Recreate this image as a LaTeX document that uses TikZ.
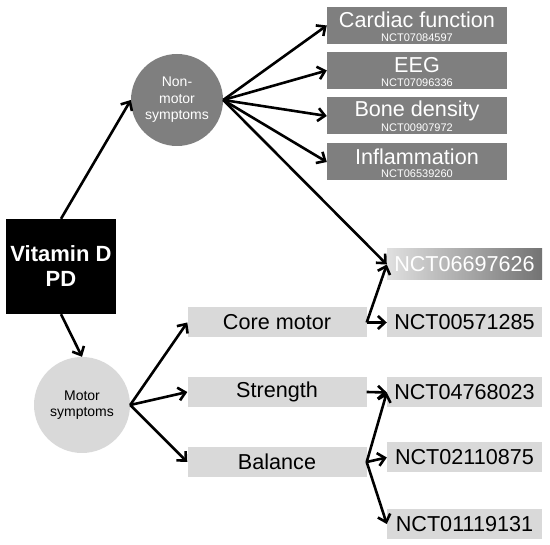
\documentclass[tikz,border=0pt]{standalone}
\usepackage{fontspec}
\setmainfont{Liberation Sans}
\usetikzlibrary{arrows.meta}
\definecolor{darkbox}{HTML}{7F7F7F}
\definecolor{lightbox}{HTML}{D9D9D9}
\begin{document}
\begin{tikzpicture}[x=1pt,y=-1pt,
  big/.style={font=\fontsize{21.6}{25}\selectfont},
  small/.style={font=\fontsize{14}{16.5}\selectfont},
  nctsmall/.style={text=white,font=\fontsize{11}{13}\selectfont},
  topbox/.style={fill=darkbox,draw=none,minimum width=180pt,minimum height=37pt,inner sep=0pt,text=white,align=center},
  motbox/.style={fill=lightbox,draw=none,minimum width=179pt,minimum height=30pt,inner sep=0pt,big},
  nctbox/.style={fill=lightbox,draw=none,minimum width=155pt,minimum height=30pt,inner sep=0pt,big},
  arr/.style={-{Straight Barb[length=7pt,width=13pt,line width=2.6pt]},line width=2.6pt,black}
]
\useasboundingbox (0,0) rectangle (550,545);
% main nodes
\node[fill=black,minimum width=110pt,minimum height=95pt,inner sep=0pt,text=white,align=center,
  font=\fontsize{22}{25}\selectfont\bfseries] (vit) at (61,266.5) {Vitamin D\\PD};
\node[circle,fill=darkbox,minimum size=92pt,inner sep=0pt,text=white,align=center,small] (nm) at (177,100) {Non-\\motor\\symptoms};
\node[circle,fill=lightbox,minimum size=96pt,inner sep=0pt,align=center,small] (mot) at (82,405) {Motor\\symptoms};
% top boxes
\node[topbox] (card) at (417,25.5) {};
\node[text=white,big] at ([yshift=5.5pt]card.center) {Cardiac function};
\node[nctsmall] at ([yshift=-12pt]card.center) {NCT07084597};
\node[topbox] (eeg) at (417,70.5) {};
\node[text=white,big] at ([yshift=5.5pt]eeg.center) {EEG};
\node[nctsmall] at ([yshift=-12pt]eeg.center) {NCT07096336};
\node[topbox] (bone) at (417,116) {};
\node[text=white,big] at ([yshift=5.5pt]bone.center) {Bone density};
\node[nctsmall] at ([yshift=-12pt]bone.center) {NCT00907972};
\node[topbox] (infl) at (417,162) {};
\node[text=white,big] at ([yshift=5.5pt]infl.center) {Inflammation};
\node[nctsmall] at ([yshift=-12pt]infl.center) {NCT06539260};
% motor boxes
\node[motbox] (core) at (277,322.5) {Core motor};
\node[motbox] (str) at (277,392) {Strength};
\node[motbox] (bal) at (277,462) {Balance};
% NCT boxes
\node[nctbox,fill=none,left color=black!12,right color=black!55,text=white,minimum height=31pt] (n1) at (464.5,264.5) {NCT06697626};
\node[nctbox] (n2) at (464.5,322.5) {NCT00571285};
\node[nctbox] (n3) at (464.5,392.5) {NCT04768023};
\node[nctbox] (n4) at (464.5,457.5) {NCT02110875};
\node[nctbox] (n5) at (464.5,524) {NCT01119131};
% connectors
\draw[arr] (vit.north) -- (nm.west);
\draw[arr] (vit.south) -- (mot.north);
\draw[arr] (nm.east) -- (card.west);
\draw[arr] (nm.east) -- (eeg.west);
\draw[arr] (nm.east) -- (bone.west);
\draw[arr] (nm.east) -- (infl.west);
\draw[arr] (nm.east) -- (n1.west);
\draw[arr] (mot.east) -- (core.west);
\draw[arr] (mot.east) -- (str.west);
\draw[arr] (mot.east) -- (bal.west);
\draw[arr] (core.east) -- (n1.west);
\draw[arr] (core.east) -- (n2.west);
\draw[arr] (str.east) -- (n3.west);
\draw[arr] (bal.east) -- (n3.west);
\draw[arr] (bal.east) -- (n4.west);
\draw[arr] (bal.east) -- (n5.west);
\end{tikzpicture}
\end{document}
